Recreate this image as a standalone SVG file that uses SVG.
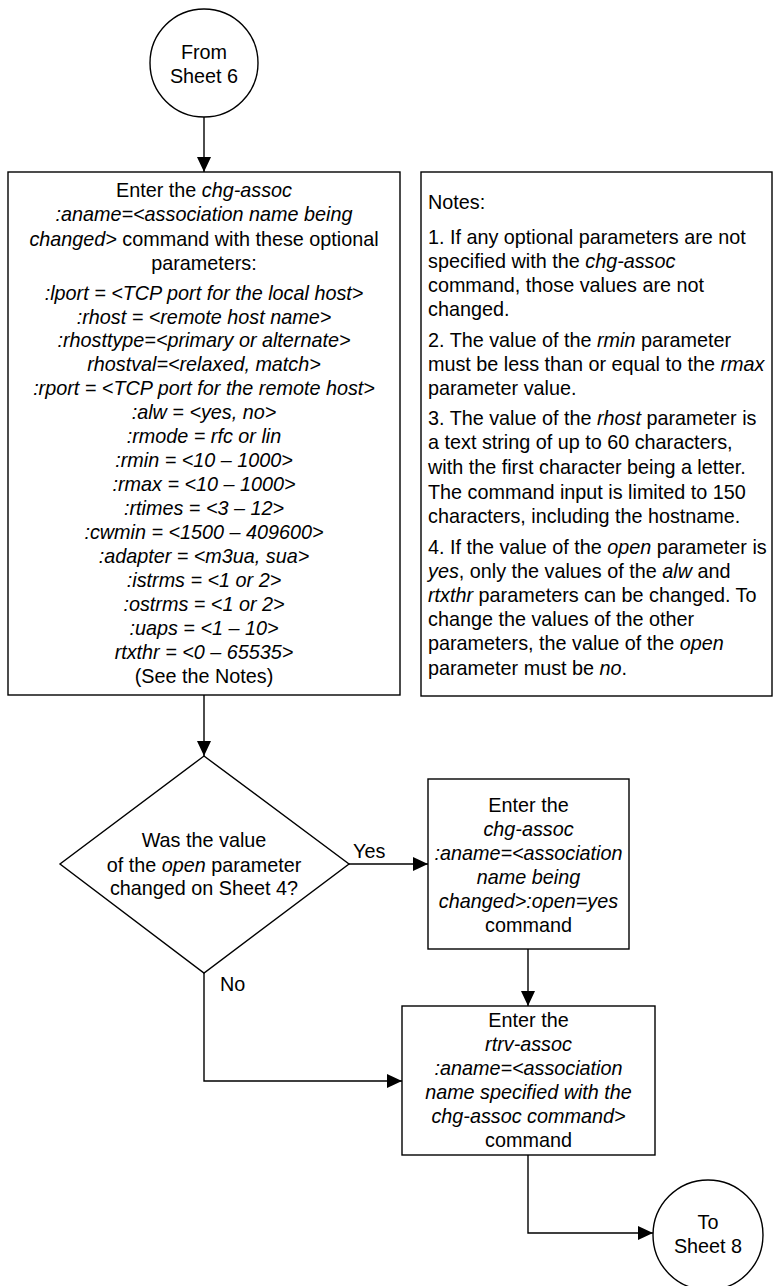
<svg xmlns="http://www.w3.org/2000/svg" width="773" height="1286" viewBox="0 0 773 1286">
<style>
text{font-family:"Liberation Sans",Arial,sans-serif;font-size:19.8px;fill:#000}
.c{text-anchor:middle}
.i{font-style:italic}
.s{fill:#fff;stroke:#000;stroke-width:1.4}
.e{fill:none;stroke:#000;stroke-width:1.4}
</style>
<defs>
<marker id="a" markerUnits="userSpaceOnUse" markerWidth="15" markerHeight="14" refX="15" refY="7" orient="auto">
<path d="M0,0 L15,7 L0,14 z" fill="#000"/>
</marker>
</defs>
<rect width="773" height="1286" fill="#fff"/>
<g id="connectors">
<path class="e" d="M204,117 V172" marker-end="url(#a)"/>
<path class="e" d="M204,695 V756" marker-end="url(#a)"/>
<path class="e" d="M349,864 H428" marker-end="url(#a)"/>
<path class="e" d="M528,949 V1006" marker-end="url(#a)"/>
<path class="e" d="M204,973 V1081 H402" marker-end="url(#a)"/>
<path class="e" d="M528,1155 V1233 H653" marker-end="url(#a)"/>
<text x="353" y="858">Yes</text>
<text x="220" y="991">No</text>
</g>
<g id="from-sheet6">
<circle class="s" cx="204" cy="63" r="54"/>
<text class="c" x="204" y="59">From</text>
<text class="c" x="204" y="83">Sheet 6</text>
</g>
<g id="enter-chg-assoc">
<rect class="s" x="8" y="172" width="392" height="523"/>
<text class="c" x="204" y="197">Enter the <tspan class="i">chg-assoc</tspan></text>
<text class="c i" x="204" y="221">:aname=&lt;association name being</text>
<text class="c" x="204" y="246"><tspan class="i">changed&gt;</tspan> command with these optional</text>
<text class="c" x="204" y="270">parameters:</text>
<text class="c i" x="204" y="300">:lport = &lt;TCP port for the local host&gt;</text>
<text class="c i" x="204" y="324">:rhost = &lt;remote host name&gt;</text>
<text class="c i" x="204" y="347">:rhosttype=&lt;primary or alternate&gt;</text>
<text class="c i" x="204" y="371">rhostval=&lt;relaxed, match&gt;</text>
<text class="c i" x="204" y="395">:rport = &lt;TCP port for the remote host&gt;</text>
<text class="c i" x="204" y="419">:alw = &lt;yes, no&gt;</text>
<text class="c i" x="204" y="443">:rmode = rfc or lin</text>
<text class="c i" x="204" y="467">:rmin = &lt;10 – 1000&gt;</text>
<text class="c i" x="204" y="491">:rmax = &lt;10 – 1000&gt;</text>
<text class="c i" x="204" y="515">:rtimes = &lt;3 – 12&gt;</text>
<text class="c i" x="204" y="539">:cwmin = &lt;1500 – 409600&gt;</text>
<text class="c i" x="204" y="563">:adapter = &lt;m3ua, sua&gt;</text>
<text class="c i" x="204" y="587">:istrms = &lt;1 or 2&gt;</text>
<text class="c i" x="204" y="611">:ostrms = &lt;1 or 2&gt;</text>
<text class="c i" x="204" y="635">:uaps = &lt;1 – 10&gt;</text>
<text class="c i" x="204" y="659">rtxthr = &lt;0 – 65535&gt;</text>
<text class="c" x="204" y="683">(See the Notes)</text>
</g>
<g id="notes">
<rect class="s" x="421" y="172" width="351" height="524"/>
<text x="428" y="209">Notes:</text>
<text x="428" y="244">1. If any optional parameters are not</text>
<text x="428" y="268">specified with the <tspan class="i">chg-assoc</tspan></text>
<text x="428" y="292">command, those values are not</text>
<text x="428" y="316">changed.</text>
<text x="428" y="347">2. The value of the <tspan class="i">rmin</tspan> parameter</text>
<text x="428" y="371">must be less than or equal to the <tspan class="i">rmax</tspan></text>
<text x="428" y="395">parameter value.</text>
<text x="428" y="425">3. The value of the <tspan class="i">rhost</tspan> parameter is</text>
<text x="428" y="449">a text string of up to 60 characters,</text>
<text x="428" y="474">with the first character being a letter.</text>
<text x="428" y="499">The command input is limited to 150</text>
<text x="428" y="523">characters, including the hostname.</text>
<text x="428" y="554">4. If the value of the <tspan class="i">open</tspan> parameter is</text>
<text x="428" y="578"><tspan class="i">yes</tspan>, only the values of the <tspan class="i">alw</tspan> and</text>
<text x="428" y="602"><tspan class="i">rtxthr</tspan> parameters can be changed. To</text>
<text x="428" y="626">change the values of the other</text>
<text x="428" y="650">parameters, the value of the <tspan class="i">open</tspan></text>
<text x="428" y="675">parameter must be <tspan class="i">no</tspan>.</text>
</g>
<g id="decision-open">
<polygon class="s" points="204,756 349,864 204,973 60,864"/>
<text class="c" x="204" y="847">Was the value</text>
<text class="c" x="204" y="872">of the <tspan class="i">open</tspan> parameter</text>
<text class="c" x="204" y="895">changed on Sheet 4?</text>
</g>
<g id="enter-open-yes">
<rect class="s" x="428" y="779" width="201" height="170"/>
<text class="c" x="528.5" y="812">Enter the</text>
<text class="c i" x="528.5" y="836">chg-assoc</text>
<text class="c i" x="528.5" y="860">:aname=&lt;association</text>
<text class="c i" x="528.5" y="884">name being</text>
<text class="c i" x="528.5" y="908">changed&gt;:open=yes</text>
<text class="c" x="528.5" y="932">command</text>
</g>
<g id="enter-rtrv-assoc">
<rect class="s" x="402" y="1006" width="253" height="149"/>
<text class="c" x="528.5" y="1027">Enter the</text>
<text class="c i" x="528.5" y="1051">rtrv-assoc</text>
<text class="c i" x="528.5" y="1075">:aname=&lt;association</text>
<text class="c i" x="528.5" y="1099">name specified with the</text>
<text class="c i" x="528.5" y="1123">chg-assoc command&gt;</text>
<text class="c" x="528.5" y="1147">command</text>
</g>
<g id="to-sheet8">
<circle class="s" cx="708" cy="1235" r="55"/>
<text class="c" x="708" y="1229">To</text>
<text class="c" x="708" y="1253">Sheet 8</text>
</g>
</svg>
